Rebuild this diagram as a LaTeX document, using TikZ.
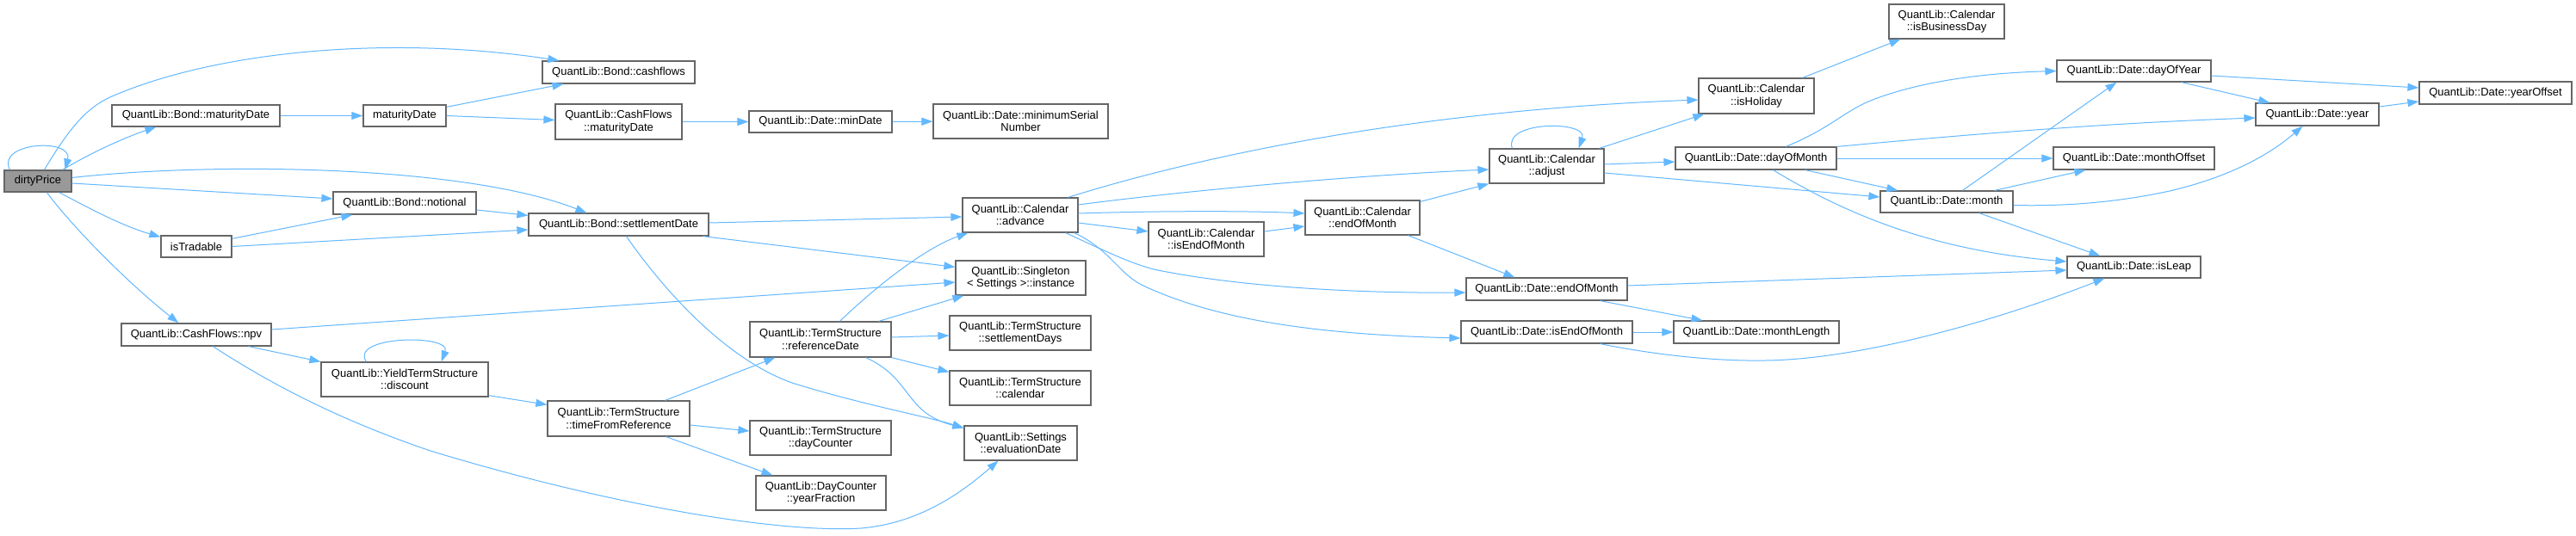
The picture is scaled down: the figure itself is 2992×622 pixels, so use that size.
\documentclass[tikz,border=0pt]{standalone}
\usepackage{fontspec}
\setmainfont{Liberation Sans}
\usetikzlibrary{arrows.meta}
\definecolor{edgec}{HTML}{63B8FF}
\definecolor{bordc}{HTML}{666666}
\definecolor{rootc}{HTML}{999999}
\newcommand\CGnode[7][]{\node[fn,#1,minimum width={(#5)-(#3)},minimum height={(#6)-(#4)}] (#2) at ({((#3)+(#5))/2},{((#4)+(#6))/2}) {#7};}
\begin{document}
\begin{tikzpicture}[x=1pt,y=-1pt,
  fn/.style={draw=bordc, fill=white, line width=1.2pt, inner sep=0pt, align=center, font=\fontsize{13}{14.5}\selectfont},
  call/.style={draw=edgec, line width=1pt, -{Triangle[length=13pt,width=9pt]}}]
\fill[white] (0,0) rectangle (2992,622);
\useasboundingbox (0,0) rectangle (2992,622);
% nodes
\CGnode[fill=rootc]{dp}{5}{198}{83}{223}{dirtyPrice}
\CGnode{bmd}{130}{122}{325}{147}{QuantLib::Bond::maturityDate}
\CGnode{md}{422}{122}{518}{147}{maturityDate}
\CGnode{bcf}{630}{71}{807}{97}{QuantLib::Bond::cashflows}
\CGnode{cfmd}{645}{121}{792}{162}{QuantLib::CashFlows\\::maturityDate}
\CGnode{dmin}{870}{129}{1036}{154}{QuantLib::Date::minDate}
\CGnode{dmsn}{1084}{121}{1287}{161}{QuantLib::Date::minimumSerial\\Number}
\CGnode{bn}{387}{223}{553}{249}{QuantLib::Bond::notional}
\CGnode{ist}{187}{274}{269}{299}{isTradable}
\CGnode{bsd}{614}{248}{823}{274}{QuantLib::Bond::settlementDate}
\CGnode{npv}{141}{376}{315}{402}{QuantLib::CashFlows::npv}
\CGnode{disc}{373}{421}{567}{461}{QuantLib::YieldTermStructure\\::discount}
\CGnode{tfr}{636}{466}{801}{507}{QuantLib::TermStructure\\::timeFromReference}
\CGnode{ref}{871}{374}{1035}{415}{QuantLib::TermStructure\\::referenceDate}
\CGnode{dc}{871}{489}{1035}{529}{QuantLib::TermStructure\\::dayCounter}
\CGnode{yf}{878}{553}{1029}{593}{QuantLib::DayCounter\\::yearFraction}
\CGnode{adv}{1118}{230}{1252}{270}{QuantLib::Calendar\\::advance}
\CGnode{inst}{1110}{303}{1261}{343}{QuantLib::Singleton\\< Settings >::instance}
\CGnode{sdays}{1103}{367}{1267}{407}{QuantLib::TermStructure\\::settlementDays}
\CGnode{cal}{1103}{431}{1267}{471}{QuantLib::TermStructure\\::calendar}
\CGnode{eval}{1120}{495}{1251}{535}{QuantLib::Settings\\::evaluationDate}
\CGnode{ciem}{1334}{258}{1468}{298}{QuantLib::Calendar\\::isEndOfMonth}
\CGnode{ceom}{1516}{233}{1649}{273}{QuantLib::Calendar\\::endOfMonth}
\CGnode{adj}{1730}{173}{1863}{213}{QuantLib::Calendar\\::adjust}
\CGnode{hol}{1973}{91}{2107}{132}{QuantLib::Calendar\\::isHoliday}
\CGnode{bday}{2194}{5}{2328}{45}{QuantLib::Calendar\\::isBusinessDay}
\CGnode{dom}{1946}{171}{2133}{197}{QuantLib::Date::dayOfMonth}
\CGnode{deom}{1703}{323}{1890}{349}{QuantLib::Date::endOfMonth}
\CGnode{diem}{1697}{373}{1896}{399}{QuantLib::Date::isEndOfMonth}
\CGnode{mlen}{1944}{373}{2136}{399}{QuantLib::Date::monthLength}
\CGnode{doy}{2389}{70}{2568}{95}{QuantLib::Date::dayOfYear}
\CGnode{moff}{2385}{171}{2572}{197}{QuantLib::Date::monthOffset}
\CGnode{mon}{2184}{222}{2338}{247}{QuantLib::Date::month}
\CGnode{leap}{2401}{298}{2556}{323}{QuantLib::Date::isLeap}
\CGnode{year}{2620}{120}{2763}{146}{QuantLib::Date::year}
\CGnode{yoff}{2810}{95}{2987}{121}{QuantLib::Date::yearOffset}
% edges from dirtyPrice
\draw[call] ([xshift=7pt]dp.north west) .. controls (-5,165) and (85,160) .. ([xshift=-8pt]dp.north east);
\draw[call] ([xshift=47pt]dp.north west) .. controls (80,150) and (100,125) .. (130,112) .. controls (250,60) and (450,40) .. ([xshift=20pt]bcf.north west);
\draw[call] ([xshift=-11pt]dp.north east) .. controls (110,175) and (150,158) .. ([xshift=52pt]bmd.south west);
\draw[call] ([yshift=4pt]dp.east) .. controls (250,188) and (540,192) .. ([xshift=68pt]bsd.north west);
\draw[call] ([yshift=-2.5pt]dp.east) -- ([yshift=5pt]bn.west);
\draw[call] ([xshift=-15pt]dp.south east) .. controls (100,240) and (140,262) .. ([yshift=-2pt]ist.north west);
\draw[call] ([xshift=50pt]dp.south west) .. controls (85,265) and (150,330) .. ([xshift=67pt]npv.north west);
% maturity chain
\draw[call] (bmd) -- (md);
\draw[call] ([yshift=-3pt]md.north east) -- ([xshift=25pt]bcf.south west);
\draw[call] (md.east) -- ([yshift=2pt]cfmd.west);
\draw[call] (cfmd) -- (dmin);
\draw[call] (dmin) -- (dmsn);
% tradable / notional / settlement
\draw[call] ([yshift=-4pt]ist.north east) -- ([xshift=23pt]bn.south west);
\draw[call] (ist.east) -- ([yshift=-6pt]bsd.west);
\draw[call] ([yshift=-8pt]bn.east) -- ([yshift=-3pt]bsd.north west);
\draw[call] ([yshift=2pt]bsd.east) -- ([yshift=-2pt]adv.west);
\draw[call] ([xshift=-7pt]bsd.south east) -- ([yshift=-8pt]inst.north west);
\draw[call] ([xshift=114pt]bsd.south west) .. controls (780,350) and (850,420) .. (920,445) .. controls (1000,470) and (1080,485) .. ([yshift=-3pt]eval.north west);
% npv
\draw[call] ([yshift=6pt]npv.east) -- ([yshift=-5pt]inst.west);
\draw[call] ([xshift=-27pt]npv.south east) -- (disc.north west);
\draw[call] ([xshift=107pt]npv.south west) .. controls (320,450) and (400,490) .. (500,524) .. controls (700,585) and (900,620) .. (1000,614) .. controls (1070,608) and (1120,570) .. ([xshift=40pt]eval.south west);
% discount / term structure
\draw[call] ([xshift=53pt]disc.north west) .. controls (405,390) and (525,388) .. ([xshift=-55pt]disc.north east);
\draw[call] ([yshift=2pt]disc.south east) -- ([yshift=-5pt]tfr.north west);
\draw[call] ([xshift=-29pt]tfr.north east) -- ([xshift=30pt]ref.south west);
\draw[call] ([yshift=-7.5pt]tfr.east) -- ([yshift=8pt]dc.west);
\draw[call] ([xshift=-28pt]tfr.south east) -- ([xshift=20pt]yf.north west);
\draw[call] ([xshift=105pt]ref.north west) .. controls (1010,340) and (1070,290) .. ([xshift=7pt]adv.south west);
\draw[call] ([xshift=-15pt]ref.north east) -- ([xshift=10pt]inst.south west);
\draw[call] ([yshift=2.5pt]ref.east) -- ([yshift=-3pt]sdays.west);
\draw[call] (ref.south east) -- ([yshift=-2pt]cal.north west);
\draw[call] ([xshift=-30pt]ref.south east) .. controls (1060,440) and (1050,480) .. ([yshift=-3pt]eval.north west);
% advance
\draw[call] ([xshift=-12pt]adv.north east) .. controls (1350,195) and (1600,130) .. ([yshift=-4.5pt]hol.west);
\draw[call] ([yshift=12pt]adv.east) .. controls (1350,225) and (1550,205) .. ([yshift=-4pt]adj.west);
\draw[call] ([yshift=2pt]adv.east) .. controls (1350,245) and (1450,245) .. ([yshift=5pt]ceom.west);
\draw[call] ([yshift=-9pt]adv.east) -- ([yshift=9pt]ciem.west);
\draw[call] ([xshift=-15pt]adv.south east) .. controls (1280,290) and (1310,305) .. (1340,313) .. controls (1420,330) and (1550,341) .. ([yshift=-4pt]deom.west);
\draw[call] ([xshift=-5pt]adv.south east) .. controls (1290,290) and (1300,320) .. (1330,333) .. controls (1400,365) and (1500,388) .. ([yshift=-7pt]diem.west);
% calendar
\draw[call] ([yshift=9pt]ciem.east) -- ([yshift=-10pt]ceom.west);
\draw[call] ([yshift=-2pt]ceom.north east) -- (adj.south west);
\draw[call] ([xshift=-14pt]ceom.south east) -- ([xshift=57pt]deom.north west);
\draw[call] ([xshift=27pt]adj.north west) .. controls (1745,140) and (1845,140) .. ([xshift=-30pt]adj.north east);
\draw[call] ([xshift=-6pt]adj.north east) -- ([xshift=7pt]hol.south west);
\draw[call] ([yshift=2pt]adj.east) -- ([yshift=-4pt]dom.west);
\draw[call] ([yshift=-8pt]adj.east) -- ([yshift=5.5pt]mon.west);
\draw[call] ([xshift=-14pt]hol.north east) -- ([xshift=14pt]bday.south west);
% dates
\draw[call] ([xshift=129pt]dom.north west) .. controls (2130,147) and (2140,130) .. (2175,116) .. controls (2230,95) and (2300,85) .. (doy.west);
\draw[call] (dom.north east) .. controls (2300,155) and (2450,143) .. ([yshift=-4pt]year.west);
\draw[call] (dom) -- (moff);
\draw[call] ([xshift=-37pt]dom.south east) -- ([xshift=21pt]mon.north west);
\draw[call] ([xshift=114pt]dom.south west) .. controls (2130,240) and (2230,290) .. ([yshift=6.5pt]leap.west);
\draw[call] ([xshift=96pt]mon.north west) -- ([xshift=70pt]doy.south west);
\draw[call] ([xshift=-22pt]mon.north east) -- ([xshift=38pt]moff.south west);
\draw[call] ([yshift=-4pt]mon.east) .. controls (2400,240) and (2460,235) .. (2520,222) .. controls (2580,208) and (2630,185) .. ([xshift=55pt]year.south west);
\draw[call] ([xshift=-40pt]mon.south east) -- ([xshift=39pt]leap.north west);
\draw[call] ([yshift=-5.5pt]doy.east) -- ([yshift=6pt]yoff.west);
\draw[call] ([xshift=-35pt]doy.south east) -- ([xshift=17pt]year.north west);
\draw[call] ([yshift=9pt]year.east) -- ([yshift=-10pt]yoff.west);
\draw[call] ([yshift=4pt]deom.east) -- ([yshift=-3.5pt]leap.west);
\draw[call] ([xshift=-32pt]deom.south east) -- ([xshift=34pt]mlen.north west);
\draw[call] (diem) -- (mlen);
\draw[call] ([xshift=-38pt]diem.south east) .. controls (1920,412) and (1990,420) .. (2050,419) .. controls (2150,418) and (2300,380) .. ([xshift=44pt]leap.south west);
\end{tikzpicture}
\end{document}
